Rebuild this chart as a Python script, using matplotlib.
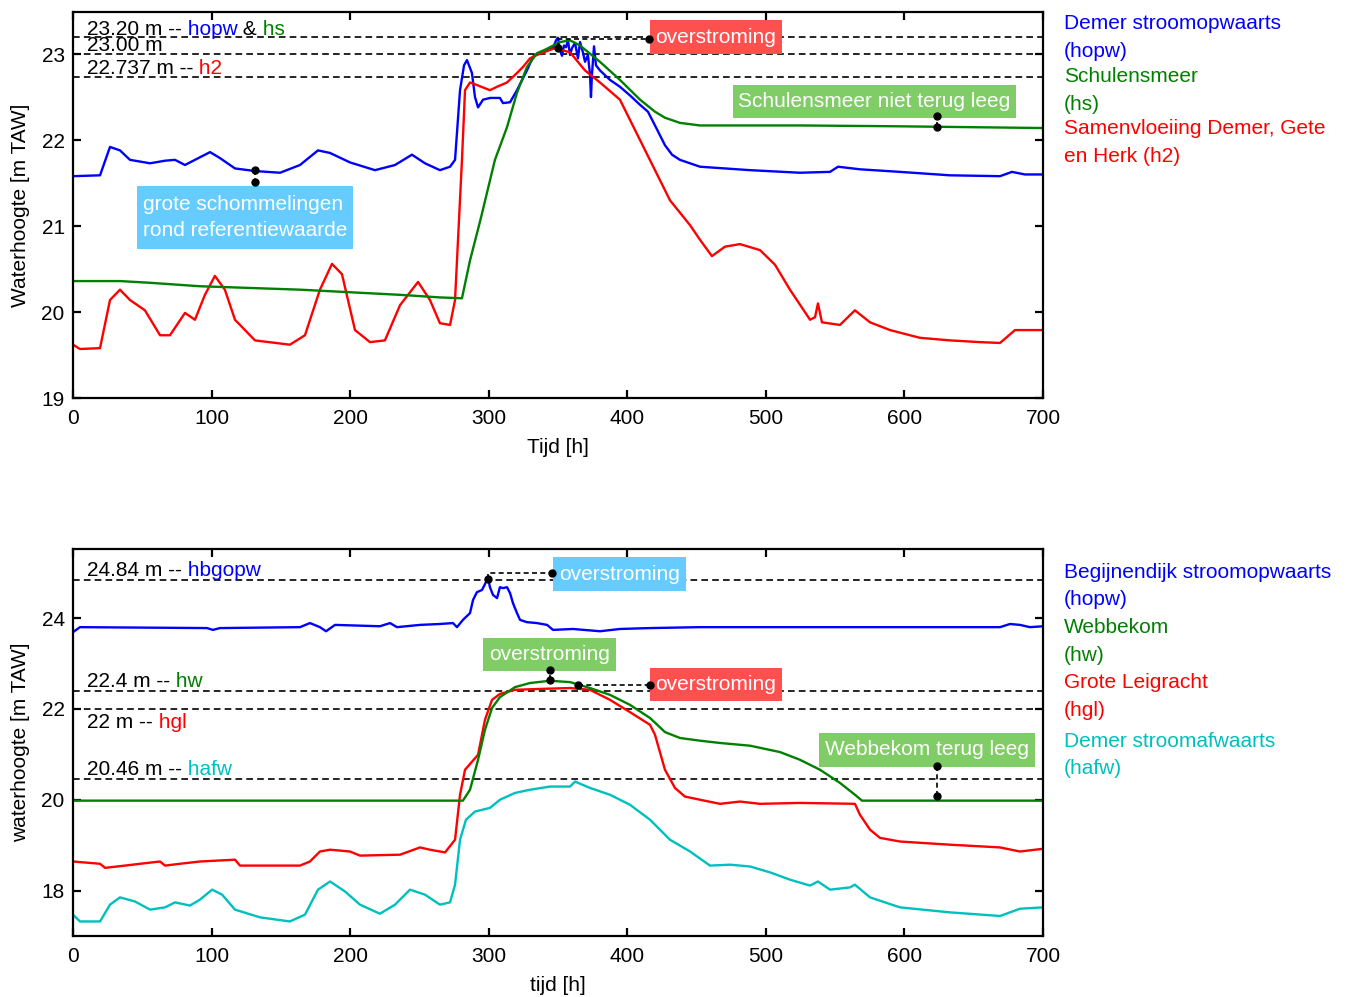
import matplotlib
matplotlib.use("Agg")
import matplotlib.pyplot as plt
from matplotlib.patches import Rectangle

plt.rcParams['font.family'] = ['Liberation Sans', 'DejaVu Sans']
FS = 15

# ---------------- data: top panel (Demer / Schulensmeer) ----------------
top_hopw_t = [0, 19.5, 26.7, 33.9, 41.1, 55.6, 66.4, 73.6, 80.8, 88.0, 98.9, 106.1, 116.9, 131.3,
              149.4, 163.8, 176.8, 185.5, 199.9, 217.9, 232.4, 244.6, 254.0, 264.8, 272.1, 275.7,
              279.3, 282.2, 284.3, 287.9, 290.1, 292.3, 295.9, 301.0, 308.1, 310.3, 315.4, 320.4,
              327.6, 332.0, 337.0, 342.1, 346.4, 348.6, 350.0, 351.4, 352.9, 354.3, 355.8, 357.2,
              358.7, 360.1, 362.3, 364.4, 365.9, 368.0, 369.5, 371.6, 373.1, 373.8, 374.5, 376.0,
              377.4, 380.3, 387.5, 394.7, 401.9, 409.2, 414.9, 420.0, 427.2, 432.3, 438.0, 452.5,
              488.6, 524.6, 546.3, 552.1, 567.9, 596.8, 632.9, 669.0, 677.6, 687.0, 700]
top_hopw_v = [21.58, 21.59, 21.92, 21.88, 21.77, 21.73, 21.76, 21.77, 21.71, 21.77, 21.86, 21.79, 21.67, 21.64,
              21.62, 21.71, 21.88, 21.85, 21.74, 21.65, 21.71, 21.83, 21.73, 21.65, 21.69, 21.77,
              22.58, 22.87, 22.93, 22.78, 22.50, 22.38, 22.47, 22.49, 22.49, 22.43, 22.44, 22.58,
              22.81, 22.97, 23.02, 23.05, 23.07, 23.16, 23.19, 23.05, 22.98, 23.10, 23.08, 23.16,
              22.99, 23.07, 23.13, 22.95, 23.14, 23.02, 22.91, 22.99, 22.76, 22.50, 22.76, 23.09,
              22.87, 22.81, 22.70, 22.62, 22.52, 22.41, 22.33, 22.17, 21.94, 21.83, 21.77, 21.69,
              21.65, 21.62, 21.63, 21.69, 21.66, 21.63, 21.59, 21.58, 21.63, 21.60, 21.60]

top_h2_t = [0, 5, 19.5, 26.7, 33.9, 41.1, 51.9, 62.8, 70.0, 80.8, 88.0, 95.2, 102.4, 109.6, 116.9,
            131.3, 156.5, 167.4, 178.2, 186.9, 194.1, 203.5, 214.3, 225.1, 236.0, 249.0, 257.6,
            264.8, 272.1, 275.7, 280.7, 282.9, 286.5, 291.5, 300.9, 306.0, 313.2, 320.4, 324.7,
            329.8, 334.8, 347.8, 358.7, 369.5, 380.3, 394.7, 409.2, 420.0, 430.8, 445.3, 452.5,
            461.1, 470.5, 481.3, 495.8, 506.6, 517.4, 531.9, 535.5, 537.6, 540.5, 553.5, 564.3,
            575.2, 589.6, 611.2, 632.9, 654.5, 669.0, 679.8, 700]
top_h2_v = [19.62, 19.57, 19.58, 20.14, 20.26, 20.14, 20.02, 19.73, 19.73, 19.99, 19.91, 20.20, 20.42, 20.26, 19.91,
            19.67, 19.62, 19.73, 20.26, 20.56, 20.44, 19.79, 19.65, 19.67, 20.08, 20.35, 20.14,
            19.87, 19.85, 20.14, 21.77, 22.58, 22.67, 22.64, 22.58, 22.62, 22.67, 22.78, 22.85,
            22.95, 22.99, 23.07, 23.02, 22.81, 22.67, 22.47, 22.00, 21.65, 21.30, 21.01, 20.84,
            20.65, 20.76, 20.79, 20.72, 20.55, 20.26, 19.91, 19.94, 20.10, 19.88, 19.85, 20.02,
            19.88, 19.79, 19.70, 19.67, 19.65, 19.64, 19.79, 19.79]

top_hs_t = [0, 33.9, 55.6, 91.4, 127.5, 163.8, 199.9, 236.0, 264.8, 280.7, 286.5, 294.0, 304.5,
            313.2, 320.4, 327.6, 334.8, 340.6, 351.4, 358.7, 365.9, 380.3, 394.7, 409.2, 420.0,
            427.2, 438.0, 452.5, 525, 597, 700]
top_hs_v = [20.36, 20.36, 20.34, 20.30, 20.28, 20.26, 20.23, 20.20, 20.17, 20.16, 20.60, 21.07, 21.77,
            22.15, 22.55, 22.85, 23.01, 23.05, 23.14, 23.16, 23.10, 22.91, 22.70, 22.47, 22.33,
            22.26, 22.20, 22.17, 22.17, 22.16, 22.14]

# ---------------- data: bottom panel (Webbekom / Grote Leigracht) ----------------
bot_hbgopw_t = [0, 5, 96.7, 101.0, 106, 163.8, 171.0, 178.2, 182.6, 189.1, 221.5, 228.8, 233.8, 250.4,
                264.8, 274.2, 277.1, 281.4, 286.5, 288.7, 291.5, 295.2, 298.8, 299.5, 300.9, 303.1,
                306.0, 308.1, 310.3, 313.2, 315.4, 317.5, 320.4, 322.6, 327.6, 334.8, 342.1, 346.4,
                360.8, 380.3, 394.7, 416.4, 452.5, 669, 676.2, 683.4, 690.6, 700]
bot_hbgopw_v = [23.69, 23.80, 23.78, 23.74, 23.78, 23.80, 23.89, 23.80, 23.71, 23.85, 23.82, 23.89, 23.80, 23.85,
                23.87, 23.89, 23.80, 23.96, 24.11, 24.40, 24.57, 24.62, 24.84, 24.88, 24.68, 24.51,
                24.44, 24.68, 24.66, 24.68, 24.55, 24.33, 24.11, 23.96, 23.91, 23.89, 23.85, 23.74,
                23.76, 23.71, 23.76, 23.78, 23.80, 23.80, 23.87, 23.85, 23.80, 23.82]

bot_hw_t = [0, 281.4, 286.5, 292.3, 297.3, 302.4, 308.1, 319.0, 329.8, 344.2, 358.7, 373.1, 387.5,
            401.9, 416.4, 427.2, 438.0, 452.5, 466.9, 488.6, 510.2, 524.6, 539.1, 553.5, 564.3,
            569.4, 700]
bot_hw_v = [19.98, 19.98, 20.22, 20.88, 21.54, 22.02, 22.26, 22.48, 22.57, 22.62, 22.59, 22.46, 22.31,
            22.09, 21.80, 21.49, 21.36, 21.30, 21.25, 21.19, 21.05, 20.88, 20.66, 20.37, 20.11,
            19.98, 19.98]

bot_hgl_t = [0, 19.5, 23.1, 37.5, 48.4, 62.8, 66.4, 77.2, 91.6, 116.9, 120.5, 163.8, 171.0, 178.2,
             185.5, 199.9, 207.1, 236.0, 250.4, 257.6, 268.5, 275.7, 279.3, 282.9, 288.0, 292.3,
             297.3, 302.4, 308.1, 319.0, 337.0, 358.7, 373.1, 387.5, 401.9, 416.4, 420.0, 427.2,
             434.4, 441.6, 452.5, 466.9, 481.3, 495.8, 524.6, 564.3, 567.9, 575.2, 582.4, 596.8,
             632.9, 669.0, 683.4, 700]
bot_hgl_v = [18.64, 18.59, 18.50, 18.55, 18.59, 18.64, 18.55, 18.59, 18.64, 18.68, 18.55, 18.55, 18.64, 18.86,
             18.90, 18.86, 18.77, 18.79, 18.95, 18.90, 18.84, 19.12, 20.11, 20.66, 20.84, 20.99,
             21.76, 22.20, 22.33, 22.42, 22.44, 22.46, 22.42, 22.20, 21.93, 21.65, 21.43, 20.66,
             20.26, 20.07, 20.00, 19.91, 19.96, 19.91, 19.93, 19.91, 19.67, 19.34, 19.16, 19.08,
             19.01, 18.95, 18.86, 18.92]

bot_hafw_t = [0, 5, 19.5, 26.7, 33.9, 44.7, 55.6, 66.4, 73.6, 84.4, 91.6, 100.4, 107.6, 116.9, 135.0,
              156.5, 167.4, 176.8, 185.5, 196.3, 207.1, 221.5, 232.4, 243.2, 254.0, 264.8, 272.1,
              275.7, 279.3, 283.6, 290.1, 300.9, 308.1, 319.0, 329.8, 344.2, 358.7, 362.3, 373.1,
              387.5, 401.9, 416.4, 430.8, 445.3, 459.7, 474.2, 488.6, 503.1, 517.4, 531.9, 537.6,
              546.3, 560.7, 564.3, 575.2, 596.8, 632.9, 669.0, 683.4, 700]
bot_hafw_v = [17.47, 17.32, 17.32, 17.69, 17.85, 17.76, 17.58, 17.63, 17.74, 17.67, 17.80, 18.02, 17.91, 17.58, 17.41,
              17.32, 17.47, 18.02, 18.20, 17.98, 17.69, 17.49, 17.69, 18.02, 17.91, 17.69, 17.74,
              18.13, 19.12, 19.56, 19.74, 19.82, 20.00, 20.15, 20.22, 20.29, 20.29, 20.40, 20.26,
              20.11, 19.89, 19.56, 19.12, 18.86, 18.55, 18.57, 18.53, 18.40, 18.24, 18.11, 18.20,
              18.02, 18.07, 18.13, 17.85, 17.63, 17.52, 17.44, 17.60, 17.63]

# reference levels
top_levels = [23.20, 23.00, 22.737]
bot_levels = [24.84, 22.4, 22.0, 20.46]

x_ticks = [0, 100, 200, 300, 400, 500, 600, 700]
top_yticks = [19, 20, 21, 22, 23]
bot_yticks = [18, 20, 22, 24]

BLUE = '#0000ff'
GREEN = '#008000'
RED = '#ff0000'
CYAN = '#00bfbf'
BOX_RED = '#ff5050'
BOX_GREEN = '#80cc66'
BOX_BLUE = '#66ccff'

fig = plt.figure(figsize=(13.47, 9.97), dpi=100)
ax1 = fig.add_axes([0.0542, 0.6008, 0.7201, 0.3872])
ax2 = fig.add_axes([0.0542, 0.0612, 0.7201, 0.3881])


def style(ax):
    for s in ax.spines.values():
        s.set_linewidth(1.6)
    ax.tick_params(direction='in', top=True, right=True, length=6, width=1.6,
                   labelsize=FS)
    ax.tick_params(axis='x', pad=8)
    ax.tick_params(axis='y', pad=6)
    ax.set_xlim(0, 700)
    ax.set_xticks(x_ticks)


LW = 1.7
ax1.plot(top_hopw_t, top_hopw_v, color=BLUE, lw=LW)
ax1.plot(top_h2_t, top_h2_v, color=RED, lw=LW)
ax1.plot(top_hs_t, top_hs_v, color=GREEN, lw=LW)
style(ax1)
ax1.set_ylim(19, 23.49)
ax1.set_yticks(top_yticks)
ax1.set_xlabel('Tijd [h]', fontsize=FS, labelpad=7)
ax1.set_ylabel('Waterhoogte [m TAW]', fontsize=FS, labelpad=8)

ax2.plot(bot_hbgopw_t, bot_hbgopw_v, color=BLUE, lw=LW)
ax2.plot(bot_hafw_t, bot_hafw_v, color=CYAN, lw=LW)
ax2.plot(bot_hgl_t, bot_hgl_v, color=RED, lw=LW)
ax2.plot(bot_hw_t, bot_hw_v, color=GREEN, lw=LW)
style(ax2)
ax2.set_ylim(17, 25.52)
ax2.set_yticks(bot_yticks)
ax2.set_xlabel('tijd [h]', fontsize=FS, labelpad=7)
ax2.set_ylabel('waterhoogte [m TAW]', fontsize=FS, labelpad=8)

DASH = (0, (4, 2.5))
for lv in top_levels:
    ax1.axhline(lv, color='black', lw=1.2, ls=DASH, zorder=1)
for lv in bot_levels:
    ax2.axhline(lv, color='black', lw=1.2, ls=DASH, zorder=1)


def multicolor(ax, x, y, parts, dy):
    t = ax.annotate(parts[0][0], xy=(x, y), xycoords='data', xytext=(0, dy),
                    textcoords='offset points', color=parts[0][1], fontsize=FS,
                    ha='left', va='baseline')
    for s, c in parts[1:]:
        t = ax.annotate(s, xy=(1, 0), xycoords=t, xytext=(0, 0), textcoords='offset points',
                        color=c, fontsize=FS, ha='left', va='bottom')


multicolor(ax1, 10, top_levels[0], [('23.20 m --', 'black'), (' hopw', BLUE), (' &', 'black'), (' hs', GREEN)], 1.5)
multicolor(ax1, 10, top_levels[1], [('23.00 m', 'black')], 2)
multicolor(ax1, 10, top_levels[2], [('22.737 m --', 'black'), (' h2', RED)], 2)

multicolor(ax2, 10, bot_levels[0], [('24.84 m --', 'black'), (' hbgopw', BLUE)], 3)
multicolor(ax2, 10, bot_levels[1], [('22.4 m --', 'black'), (' hw', GREEN)], 3)
multicolor(ax2, 10, bot_levels[2], [('22 m --', 'black'), (' hgl', RED)], -14)
multicolor(ax2, 10, bot_levels[3], [('20.46 m --', 'black'), (' hafw', CYAN)], 3)


def box(ax, x0, x1, y0, y1, txt, color, left=False, **kw):
    ax.add_patch(Rectangle((x0, y0), x1 - x0, y1 - y0, facecolor=color, edgecolor='none', zorder=6))
    if left:
        ax.text(x0 + 4.3, (y0 + y1) / 2, txt, fontsize=FS, color='white', ha='left',
                va='center', zorder=7, **kw)
    else:
        ax.text((x0 + x1) / 2, (y0 + y1) / 2, txt, fontsize=FS, color='white', ha='center',
                va='center', zorder=7, **kw)


def connector(ax, xs, ys):
    ax.plot(xs, ys, color='black', lw=1.2, ls=(0, (3, 2)), zorder=5)
    ax.plot([xs[0], xs[-1]], [ys[0], ys[-1]], 'o', color='black', ms=5, zorder=8)


# top annotations
connector(ax1, [350, 350, 415.7], [23.07, 23.17, 23.17])
box(ax1, 416.4, 511.6, 23.0, 23.395, 'overstroming', BOX_RED)
connector(ax1, [623.5, 623.5], [22.15, 22.28])
box(ax1, 476.3, 680.5, 22.256, 22.64, 'Schulensmeer niet terug leeg', BOX_GREEN)
connector(ax1, [131, 131], [21.65, 21.51])
box(ax1, 46.2, 202.1, 20.733, 21.465, 'grote schommelingen\nrond referentiewaarde', BOX_BLUE,
    left=True, linespacing=1.45)

# bottom annotations
connector(ax2, [299.5, 299.5, 345.7], [24.86, 24.99, 24.99])
box(ax2, 346.4, 442.4, 24.593, 25.34, 'overstroming', BOX_BLUE)
connector(ax2, [344.2, 344.2], [22.64, 22.86])
box(ax2, 295.9, 391.9, 22.835, 23.56, 'overstroming', BOX_GREEN)
connector(ax2, [364.4, 416.4], [22.53, 22.53])
box(ax2, 416.4, 511.6, 22.176, 22.90, 'overstroming', BOX_RED)
connector(ax2, [623.5, 623.5], [20.09, 20.75])
box(ax2, 538.4, 694.2, 20.725, 21.473, 'Webbekom terug leeg', BOX_GREEN)

# right-hand legends
W, H = 1347, 997
legend_top = [('Demer stroomopwaarts', BLUE, 29), ('(hopw)', BLUE, 57),
              ('Schulensmeer', GREEN, 82), ('(hs)', GREEN, 110),
              ('Samenvloeiing Demer, Gete', RED, 134), ('en Herk (h2)', RED, 162)]
legend_bot = [('Begijnendijk stroomopwaarts', BLUE, 578), ('(hopw)', BLUE, 605),
              ('Webbekom', GREEN, 633), ('(hw)', GREEN, 661),
              ('Grote Leigracht', RED, 688), ('(hgl)', RED, 716),
              ('Demer stroomafwaarts', CYAN, 747), ('(hafw)', CYAN, 774)]
for txt, c, yb in legend_top + legend_bot:
    fig.text(1064 / W, 1 - yb / H, txt, color=c, fontsize=FS, ha='left', va='baseline')

fig.savefig('out.png', dpi=100)
